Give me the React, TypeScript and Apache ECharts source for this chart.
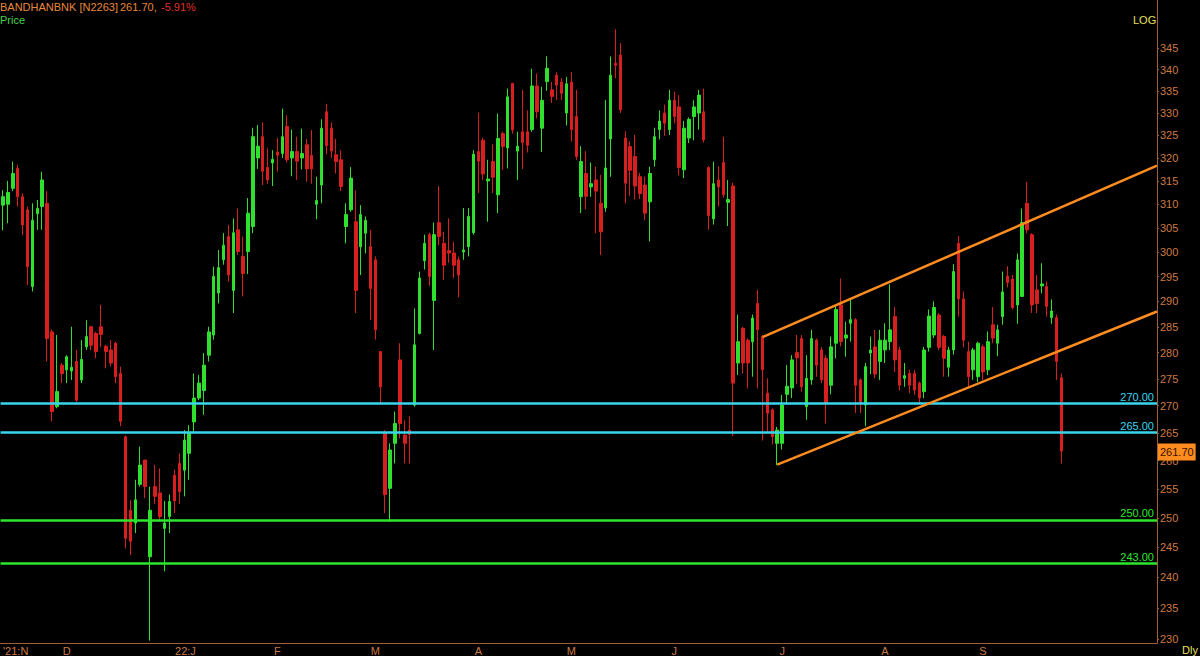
import React, { useEffect, useRef } from "react";
import * as echarts from "echarts";

// ---- data ----
const symbolName = "BANDHANBNK [N2263]";
const lastPrice = 261.7;
const changePct = -5.91;

const monthLabels = ["'21:N", "D", "22:J", "F", "M", "A", "M", "J", "J", "A", "S"];
const monthIndex = [0, 13, 36, 56, 76, 97, 116, 137, 159, 180, 200];
const slotCount = 236;

const yTickValues = [230, 235, 240, 245, 250, 255, 260, 265, 270, 275, 280, 285, 290, 295, 300, 305, 310, 315, 320, 325, 330, 335, 340, 345];
const yMinPrice = 229.42;
const yMaxPrice = 356.62;

const cyanLevels = [270, 265];
const greenLevels = [250, 243];

const upperChannel = [[155, 283.0], [235.5, 318.3]];
const lowerChannel = [[158, 259.3], [235.5, 288.0]];

// [open, high, low, close]
const candles: number[][] = [
  [309.8, 313, 304.5, 311.6], [310, 315, 306, 312.5], [313.4, 319.2, 312.8, 316.6], [317.7, 318.5, 309.5, 311.6],
  [311.6, 312.3, 303.5, 305.6], [308.8, 309.5, 293.3, 297], [293, 310.2, 292, 306.6], [308, 310.9, 304.6, 309.1],
  [309.5, 317, 304.6, 315.2], [310.2, 312.8, 278.3, 282.7], [284, 284.5, 267.1, 268.9], [269.8, 283.4, 269.5, 272.6],
  [277.6, 278, 274.2, 276], [276.7, 279.5, 274.2, 279.2], [276.5, 285, 274.8, 277.2], [278.3, 280.5, 270.7, 271],
  [274.8, 282.4, 274.2, 278.7], [281.1, 286.3, 280.5, 283.1], [285, 285.2, 280.5, 281.4], [283.7, 284, 278.9, 280.2],
  [285, 289.3, 281, 283.5], [281.2, 281.5, 277, 280.2], [280.5, 282.4, 277.4, 278], [281.8, 282.1, 274.2, 275.4],
  [276, 277.3, 266.2, 267.1], [264.3, 264.5, 244.8, 246.5], [251.3, 253, 243.7, 246], [249.1, 256.6, 247.4, 253.1],
  [255.8, 262.5, 255.4, 259.2], [260.1, 260.1, 253.4, 255.4], [243.4, 255.4, 229.8, 251.3], [255.4, 259.2, 252.4, 253.7],
  [254.3, 258.6, 249.3, 250.2], [248.2, 252.9, 241, 249.1], [250.2, 254, 247.4, 252.8], [257.4, 258.4, 250.8, 252.9],
  [259.5, 261.3, 252.4, 254.5], [258.3, 265.5, 253.7, 263.7], [261.3, 266.4, 256.6, 264.9], [267, 276, 265.2, 271.4],
  [271.4, 275.7, 271, 274.2], [272.8, 279.9, 268.3, 277.6], [279.5, 285, 278.3, 284], [283.4, 297, 282.5, 295],
  [291.7, 300.4, 289.6, 296.8], [298.4, 303.9, 297.4, 301.4], [303.2, 305.6, 294, 295.3], [292.2, 307, 287.7, 304],
  [304.6, 309.1, 299.4, 300.1], [299.1, 303.2, 291, 295.6], [300.1, 311.3, 295.5, 308.1], [305.3, 326.7, 303.9, 324.7],
  [320, 327.3, 317.6, 322.6], [324.7, 327.9, 314.1, 317.1], [317.9, 322.1, 314.4, 315.2], [318.9, 321.7, 313.9, 319.7],
  [321.3, 324.4, 317, 320.6], [321, 331, 320, 324.7], [327, 329.5, 319, 319.6], [320, 326.3, 316, 321.4],
  [321.4, 324.7, 315.2, 319.3], [320, 326.5, 317.5, 321], [322.9, 324.2, 314.8, 317.6], [320.6, 326.2, 314.4, 317.6],
  [310, 315.9, 306.8, 310.8], [314.1, 328.6, 310.2, 326.6], [330.3, 332.1, 320.8, 322.7], [326.6, 327.9, 320, 321.5],
  [320.7, 324.2, 316.6, 319.2], [319.6, 321.7, 312.8, 313.8], [305.3, 310.2, 301.8, 307.8], [308.8, 318, 308.4, 315.6],
  [306.3, 313, 287.7, 292.2], [301.1, 309.8, 295.3, 307.8], [303.9, 307.4, 299.7, 306.6], [301.1, 304.6, 286.3, 292.6],
  [298.4, 299.1, 282.5, 284.4], [280.2, 280.2, 270.4, 273.5], [264.9, 265.5, 250.8, 254], [255.1, 263.1, 249.3, 261.9],
  [263.1, 268.9, 259.5, 266.7], [278.6, 281.8, 264, 266.7], [264.6, 267.3, 259.5, 263.1], [265.5, 268, 259.5, 264.7],
  [270.1, 288.6, 269.8, 281.5], [283.7, 296, 283.5, 294.7], [298.2, 303.6, 296.4, 301.8], [303.6, 304, 293.1, 295],
  [290.2, 306.1, 280.5, 303.6], [306.1, 313.9, 301.4, 303.2], [301.8, 304.2, 294.3, 297.3], [300.3, 307, 297.8, 299.8],
  [299.8, 302.1, 294.7, 297.3], [298.4, 299.1, 290.8, 295.3], [300, 309.2, 298.4, 300.4], [301.1, 309.2, 299.1, 307.4],
  [304, 321.7, 303.6, 320.8], [321.4, 330.1, 312.4, 319.3], [323.9, 324.5, 315.2, 316.5], [315, 319.6, 306.3, 315.4],
  [319.2, 323, 312.4, 315.8], [312, 329.9, 308.1, 324.3], [325.4, 325.8, 317.4, 322.5], [322.2, 335.6, 317.7, 333.7],
  [336.8, 336.8, 325.4, 326.2], [321.5, 325.8, 315.2, 322.6], [325.8, 335.3, 317.6, 323.4], [325.8, 330.6, 321.2, 322.8],
  [326.3, 340.2, 325.8, 336.2], [336.2, 339.1, 328.8, 330.3], [326.6, 336, 321.3, 332.9], [337.2, 343.1, 335.1, 340.3],
  [335.3, 337.1, 332.3, 333.8], [338.7, 339.4, 333, 336.4], [337.1, 338, 333, 334.5], [330, 338.3, 327.2, 336.7],
  [337.1, 339.4, 323.6, 326.3], [329.2, 335.3, 319.6, 320.3], [311.6, 322.6, 308.1, 319.2], [316.6, 321.5, 308.9, 311.7],
  [313.7, 319, 311.6, 314.4], [315.2, 318.1, 303.9, 312.8], [310.2, 316.3, 299.4, 304.2], [309.2, 333, 308.4, 317.8],
  [324.2, 343.1, 315.9, 338.7], [341.5, 349.5, 338, 341], [343.4, 346.2, 330, 330.7], [324.4, 325.9, 310.2, 314.5],
  [322.5, 323.7, 311.8, 317.3], [320.3, 325.1, 311, 313.9], [315.9, 316.7, 311.1, 312.3], [314.1, 315.9, 306.6, 308.1],
  [310.5, 318.1, 302.2, 316.6], [319.6, 326.7, 318.1, 324.7], [326.3, 330.6, 324.1, 328.2], [330, 331.9, 324.9, 327.7],
  [326.3, 335.3, 325.1, 332.9], [332.9, 334.9, 327.7, 329.2], [331.4, 334.1, 316.2, 317.9], [317.4, 328.2, 315.6, 326.6],
  [324.4, 329, 323.3, 328.6], [329.2, 332.9, 323.9, 331.4], [330, 335.3, 326.3, 334.1], [330.3, 335.6, 323.4, 324],
  [317.9, 318.2, 304.6, 307.6], [306.9, 319.2, 305.7, 314.4], [315.2, 318.2, 309.5, 313.7], [319, 324.7, 311.4, 312],
  [310.4, 315.2, 305.4, 311], [313.9, 314.6, 264.4, 274.2], [278, 287.4, 275.7, 282.1], [284.7, 285, 276, 278],
  [282.4, 282.7, 273.2, 278], [282.1, 287.4, 275.4, 286.7], [289.6, 292.3, 273.2, 284.4], [283.1, 283.4, 263.6, 276.7],
  [272.3, 275.1, 264.9, 268.6], [269.2, 269.5, 262.9, 264.3], [263.1, 266.1, 259.2, 265.5], [263.1, 272, 262, 270.1],
  [272.1, 277.6, 270.4, 273.6], [273.3, 279.5, 271.4, 278.6], [280, 283.4, 274, 279], [282.7, 283.4, 272.6, 273.5],
  [269.8, 279.5, 267.4, 275.1], [274.8, 284.4, 273.9, 282.7], [282.4, 282.7, 275.4, 277.6], [280.5, 281.1, 274.2, 274.8],
  [278.9, 279.5, 266.7, 270.4], [273.8, 283.1, 272.1, 281.1], [281.8, 289, 278.9, 288.4], [289.3, 294.6, 281.2, 282.1],
  [282.8, 286, 279.2, 283.4], [285.7, 290.3, 282.1, 286.4], [286.4, 286.7, 268.6, 273.8], [274.8, 275.1, 268.6, 270.4],
  [270.1, 278, 266.2, 277.3], [279.9, 283.1, 275.9, 280.5], [281.1, 284.4, 275.1, 275.9], [278.3, 284.4, 274.8, 282.4],
  [280.5, 285.7, 278, 282.4], [282.1, 293.4, 280.5, 284.4], [287, 288.9, 276.3, 278.6], [280.5, 281.1, 272.8, 273.8],
  [275.1, 278, 273.5, 275.6], [276, 276.7, 272.3, 273.8], [276, 276.7, 272, 272.9], [274.2, 274.5, 270.4, 271.4],
  [272.6, 281.1, 271.4, 280.5], [281, 288.4, 280.2, 287.1], [283.4, 290, 282.8, 288.8], [287.3, 287.7, 280.5, 281],
  [283.1, 283.4, 275.4, 278.9], [277.2, 281.1, 275.4, 280.5], [280.5, 297.5, 279.6, 296], [301.8, 303.3, 287, 290.5],
  [290.5, 292, 281, 282.4], [280.2, 282.1, 273.4, 275.4], [276.7, 280.9, 274.8, 280.5], [275.4, 282.1, 274.4, 281.8],
  [281.1, 281.5, 274.8, 276.3], [276.7, 284.1, 275.7, 282.1], [285.4, 288.9, 281.8, 282.8], [281.8, 285.4, 279.3, 284.4],
  [287, 296, 285.4, 291.9], [295.1, 297.1, 292.8, 293.8], [294.5, 295.3, 288.4, 288.8], [289.3, 299.7, 285.6, 298.4],
  [291, 309.1, 291, 306.1], [310.2, 314.8, 303.9, 304.6], [303.6, 303.9, 287.7, 289.3], [292.3, 295.3, 287.7, 289.6],
  [293.1, 297.7, 291.6, 293.5], [293, 294, 287, 289], [286.8, 290.4, 285.6, 288.1], [286.8, 287.4, 274.8, 278.3],
  [275.2, 276, 259.5, 261.7],
];

// ---- colours ----
const UP = "#2fe02f";
const DOWN = "#d81f1f";
const AXIS = "#a0603a";
const AXIS_TEXT = "#cc7a44";
const CYAN = "#3ad6ee";
const GREEN = "#2ee62e";
const ORANGE = "#ff8c1e";
const FONT = "'Liberation Sans', Arial, sans-serif";

export default function App() {
  const ref = useRef<HTMLDivElement>(null);

  useEffect(() => {
    if (!ref.current) return;
    const chart = echarts.init(ref.current, null, { renderer: "svg" });
    const L = Math.log;
    const cats = Array.from({ length: slotCount }, (_, i) => String(i));
    const labelAt = new Map<number, string>(monthIndex.map((idx, k) => [idx, monthLabels[k]]));
    const lnTicks = yTickValues.map((v) => L(v));

    const levelLine = (v: number, color: string) => ({
      yAxis: L(v),
      lineStyle: { color, width: 2.5, type: "solid" },
      label: {
        show: true,
        position: "insideEndTop",
        formatter: v.toFixed(2),
        color,
        fontSize: 11,
        fontFamily: FONT,
        distance: [3, 1],
      },
    });

    chart.setOption({
      animation: false,
      backgroundColor: "#000000",
      textStyle: { fontFamily: FONT },
      grid: { left: 0, right: 43, top: 0, bottom: 13, containLabel: false },
      xAxis: [
        {
          type: "category",
          data: cats,
          boundaryGap: true,
          axisLine: { show: true, onZero: false, lineStyle: { color: AXIS, width: 1 } },
          axisTick: { show: false },
          splitLine: { show: false },
          axisLabel: {
            interval: (i: number) => labelAt.has(i),
            formatter: (v: string) => {
              const idx = Number(v);
              const t = labelAt.get(idx) ?? "";
              return idx === monthIndex[2] ? `{s|${t}}` : t;
            },
            rich: { s: { padding: [0, 0, 0, 12], color: AXIS_TEXT, fontSize: 11, fontFamily: FONT } },
            color: AXIS_TEXT,
            fontSize: 11,
            fontFamily: FONT,
            margin: 2,
            alignMinLabel: "left",
          },
        },
        { type: "value", min: -0.5, max: slotCount - 0.5, show: false },
      ],
      yAxis: {
        type: "value",
        position: "right",
        min: L(yMinPrice),
        max: L(yMaxPrice),
        axisLine: { show: true, onZero: false, lineStyle: { color: AXIS, width: 1 } },
        axisTick: { show: true, customValues: lnTicks, length: 2, lineStyle: { color: AXIS } },
        splitLine: { show: false },
        axisLabel: {
          customValues: lnTicks,
          formatter: (v: number) => String(Math.round(Math.exp(v))),
          color: AXIS_TEXT,
          fontSize: 11,
          fontFamily: FONT,
          margin: 3,
        },
      },
      series: [
        {
          type: "candlestick",
          xAxisIndex: 0,
          yAxisIndex: 0,
          barWidth: 3,
          data: candles.map(([o, h, l, c]) => [L(o), L(c), L(l), L(h)]),
          itemStyle: { color: UP, color0: DOWN, borderColor: UP, borderColor0: DOWN, borderWidth: 1 },
          markLine: {
            silent: true,
            symbol: ["none", "none"],
            data: [
              ...cyanLevels.map((v) => levelLine(v, CYAN)),
              ...greenLevels.map((v) => levelLine(v, GREEN)),
              {
                yAxis: L(lastPrice),
                lineStyle: { color: "rgba(0,0,0,0)", width: 1 },
                label: {
                  show: true,
                  position: "end",
                  formatter: lastPrice.toFixed(2),
                  backgroundColor: ORANGE,
                  color: "#3a1000",
                  fontSize: 11,
                  fontFamily: FONT,
                  padding: [3, 2, 3, 2],
                  distance: 1,
                  offset: [0, 5],
                  opacity: 1,
                },
              },
            ],
          },
        },
        {
          type: "line",
          xAxisIndex: 1,
          yAxisIndex: 0,
          symbol: "none",
          data: upperChannel.map(([x, p]) => [x, L(p)]),
          lineStyle: { color: ORANGE, width: 2.5 },
          z: 5,
        },
        {
          type: "line",
          xAxisIndex: 1,
          yAxisIndex: 0,
          symbol: "none",
          data: lowerChannel.map(([x, p]) => [x, L(p)]),
          lineStyle: { color: ORANGE, width: 2.5 },
          z: 5,
        },
      ],
      graphic: [
        { type: "text", left: 0, top: 1, style: { text: symbolName, fill: "#e8893c", font: `11px ${FONT}` } },
        { type: "text", left: 120, top: 1, style: { text: `${lastPrice.toFixed(2)},`, fill: "#e8893c", font: `11px ${FONT}` } },
        { type: "text", left: 161, top: 1, style: { text: `${changePct.toFixed(2)}%`, fill: "#e0302a", font: `11px ${FONT}` } },
        { type: "text", left: 0, top: 14, style: { text: "Price", fill: "#46d046", font: `11px ${FONT}` } },
        { type: "text", left: 1133, top: 14, style: { text: "LOG", fill: "#e6e060", font: `11px ${FONT}` } },
        { type: "text", left: 1182, top: 644, style: { text: "Dly", fill: "#e6e060", font: `11px ${FONT}` } },
      ],
    });

    return () => chart.dispose();
  }, []);

  return (
    <div
      ref={ref}
      style={{ position: "fixed", left: 0, top: 0, width: 1200, height: 656, background: "#000" }}
    />
  );
}
